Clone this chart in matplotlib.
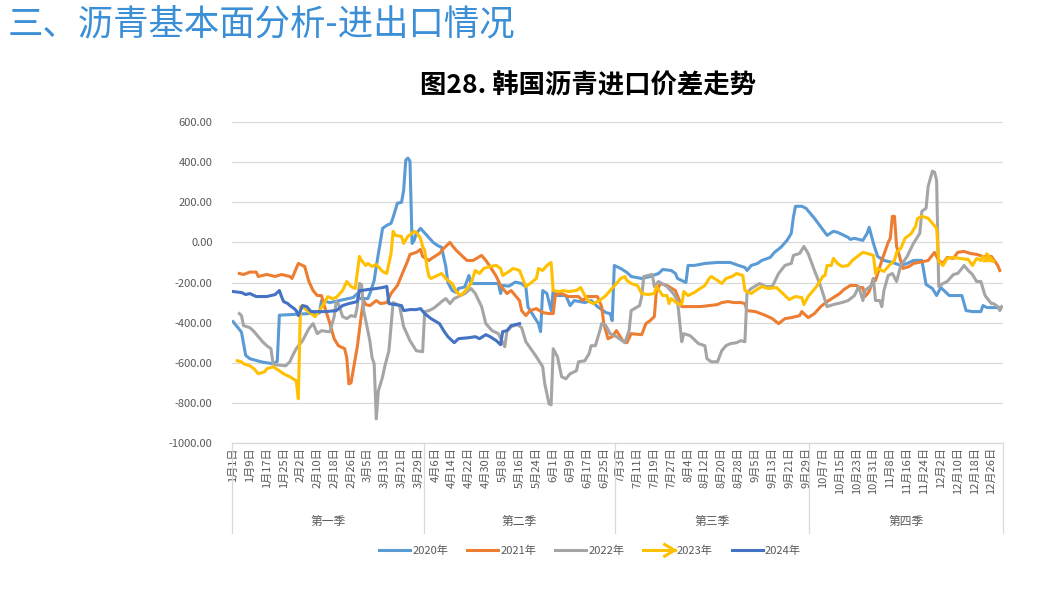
import matplotlib
matplotlib.use("Agg")
import matplotlib.pyplot as plt
from matplotlib.lines import Line2D
from matplotlib.legend_handler import HandlerBase

plt.rcParams['font.family'] = ['Noto Sans CJK SC', 'DejaVu Sans']

# day-of-year (leap year, 0 = 1月1日) and price spread for each year
s2020 = [(0,-395),(4,-447),(6,-563),(8,-580),(14,-597),(19,-605),(21,-593),(22,-363),(41,-352),(42,-290),(46,-300),
         (57,-275),(59,-255),(60,-280),(64,-280),(65,-255),(67,-190),(68,-120),(71,70),(73,85),(75,95),(76,125),(78,195),
         (80,200),(81,260),(82,410),(83,420),(84,405),(85,-5),(86,10),(87,45),(89,70),(92,35),(95,0),(97,-15),(99,-25),
         (101,-120),(102,-200),(104,-240),(106,-250),(107,-230),(110,-222),(112,-165),(113,-205),(120,-205),(126,-205),
         (127,-255),(128,-215),(131,-218),(134,-198),(137,-205),(139,-222),(140,-322),(142,-355),(145,-405),(146,-445),
         (147,-240),(149,-255),(151,-340),(152,-240),(154,-265),(158,-265),(160,-315),(162,-290),(167,-300),(170,-290),
         (173,-320),(177,-350),(179,-355),(180,-390),(181,-115),(184,-130),(187,-150),(189,-170),(194,-180),(198,-170),
         (202,-155),(204,-135),(208,-140),(210,-155),(211,-180),(215,-200),(216,-115),(219,-115),(224,-105),(230,-100),
         (236,-100),(240,-115),(243,-125),(244,-140),(246,-115),(249,-105),(251,-90),(255,-75),(257,-50),(260,-25),
         (263,10),(265,45),(266,125),(267,180),(270,180),(272,170),(276,120),(282,35),(285,55),(287,50),(292,25),
         (293,15),(295,20),(299,10),(301,45),(302,75),(304,-5),(306,-70),(309,-90),(313,-100),(317,-115),(320,-105),
         (323,-90),(327,-90),(329,-210),(332,-230),(334,-265),(336,-225),(338,-245),(340,-265),(346,-265),(348,-340),
         (351,-345),(355,-345),(356,-315),(358,-325),(364,-325)]

s2021 = [(3,-155),(5,-160),(8,-148),(11,-148),(12,-170),(16,-160),(20,-170),(23,-160),(27,-170),(28,-180),(30,-130),
         (31,-105),(34,-120),(36,-195),(38,-240),(40,-265),(42,-265),(43,-305),(46,-405),(48,-480),(50,-515),(53,-530),
         (54,-575),(55,-705),(56,-700),(59,-520),(61,-355),(62,-290),(63,-310),(65,-315),(68,-290),(70,-305),(73,-300),
         (75,-255),(78,-215),(81,-140),(83,-90),(84,-60),(87,-50),(89,-35),(90,-70),(93,-90),(95,-75),(98,-55),(100,-30),
         (103,0),(104,-15),(106,-40),(109,-70),(111,-90),(114,-90),(118,-65),(120,-90),(122,-120),(125,-170),(127,-215),
         (130,-255),(132,-240),(136,-290),(137,-340),(139,-365),(141,-340),(144,-330),(147,-350),(150,-355),(152,-355),
         (153,-260),(156,-255),(159,-270),(164,-270),(166,-290),(168,-270),(170,-270),(173,-270),(175,-320),(176,-405),
         (178,-480),(180,-470),(182,-440),(185,-490),(187,-500),(189,-455),(194,-460),(196,-405),(198,-390),(200,-370),
         (201,-240),(203,-205),(206,-215),(210,-240),(213,-320),(216,-320),(222,-320),(226,-315),(230,-310),(232,-300),
         (235,-295),(238,-300),(241,-300),(243,-305),(244,-340),(248,-345),(253,-365),(256,-380),(259,-405),(262,-380),
         (265,-375),(269,-365),(270,-345),(272,-365),(273,-375),(276,-355),(279,-320),(282,-295),(285,-275),(288,-255),
         (290,-235),(293,-215),(296,-215),(297,-225),(299,-225),(300,-270),(302,-245),(304,-180),(305,-190),(308,-90),
         (310,-30),(311,0),(312,20),(313,130),(314,130),(315,-20),(316,-55),(318,-130),(321,-120),(323,-105),(328,-95),
         (330,-90),(333,-50),(335,-90),(337,-105),(339,-75),(342,-80),(344,-50),(347,-45),(350,-55),(353,-60),(356,-70),
         (360,-70),(363,-115),(364,-140)]

s2022 = [(3,-355),(4,-365),(5,-415),(8,-425),(10,-445),(12,-470),(14,-495),(16,-515),(18,-530),(19,-605),(20,-610),
         (25,-615),(27,-595),(28,-570),(30,-530),(33,-490),(36,-430),(38,-405),(40,-455),(42,-440),(45,-445),(46,-445),
         (48,-370),(49,-295),(50,-305),(52,-370),(54,-380),(56,-365),(58,-370),(59,-320),(60,-205),(61,-210),(62,-340),
         (64,-440),(65,-495),(66,-575),(67,-605),(68,-880),(69,-740),(71,-670),(72,-620),(74,-540),(75,-420),(76,-300),
         (79,-315),(81,-420),(84,-490),(87,-540),(90,-545),(91,-345),(93,-340),(95,-330),(98,-305),(99,-295),(101,-280),
         (103,-305),(105,-280),(107,-270),(110,-255),(113,-230),(115,-255),(118,-320),(120,-405),(123,-440),(126,-455),
         (129,-520),(130,-445),(132,-420),(135,-410),(137,-425),(139,-495),(142,-540),(144,-570),(147,-620),(148,-705),
         (150,-805),(151,-810),(152,-530),(154,-570),(156,-670),(158,-680),(160,-655),(163,-640),(164,-595),(167,-590),
         (169,-555),(170,-515),(172,-515),(174,-445),(175,-405),(177,-415),(179,-455),(182,-470),(186,-500),(188,-440),
         (189,-340),(193,-315),(194,-270),(195,-170),(197,-165),(199,-160),(200,-220),(202,-195),(206,-220),(209,-255),
         (211,-290),(213,-495),(214,-455),(217,-465),(221,-505),(224,-515),(225,-580),(227,-595),(230,-595),(232,-540),
         (234,-515),(236,-505),(239,-500),(241,-490),(243,-495),(244,-250),(246,-230),(250,-205),(253,-220),(256,-220),
         (259,-155),(262,-115),(265,-105),(266,-65),(269,-55),(271,-20),(273,-55),(276,-140),(279,-220),(282,-320),
         (285,-310),(289,-300),(292,-290),(295,-265),(297,-220),(299,-290),(300,-240),(303,-215),(304,-180),(305,-290),
         (307,-290),(308,-320),(309,-240),(311,-165),(313,-155),(315,-195),(317,-115),(320,-70),(323,-5),(326,45),
         (327,155),(329,170),(330,280),(332,355),(333,350),(334,310),(335,-220),(337,-205),(339,-195),(342,-160),
         (344,-155),(346,-130),(347,-115),(349,-140),(351,-160),(353,-195),(355,-195),(357,-265),(360,-305),(361,-305),
         (363,-320),(364,-340),(365,-320)]

s2023 = [(2,-590),(4,-595),(5,-605),(8,-615),(10,-630),(12,-655),(15,-645),(16,-630),(19,-620),(22,-640),(24,-655),
         (27,-670),(30,-690),(31,-780),(32,-320),(33,-315),(34,-330),(37,-355),(39,-370),(41,-340),(44,-290),(45,-270),
         (47,-280),(49,-275),(52,-240),(54,-195),(56,-220),(58,-230),(60,-70),(61,-90),(63,-115),(64,-105),(66,-120),
         (68,-110),(71,-145),(73,-155),(75,-55),(76,55),(77,35),(80,30),(81,-5),(83,30),(86,55),(87,50),(89,20),(90,-20),
         (91,-40),(92,-120),(93,-170),(94,-180),(97,-165),(99,-155),(101,-180),(104,-205),(106,-245),(108,-265),
         (110,-245),(113,-205),(115,-140),(117,-155),(119,-130),(122,-120),(125,-115),(127,-130),(128,-165),(131,-145),
         (133,-130),(136,-140),(139,-220),(141,-205),(144,-180),(145,-130),(147,-140),(149,-115),(151,-100),(152,-240),
         (155,-245),(157,-240),(159,-245),(163,-240),(165,-225),(167,-265),(169,-295),(171,-305),(174,-290),(177,-265),
         (179,-240),(182,-205),(184,-180),(186,-170),(187,-190),(189,-205),(192,-215),(194,-255),(197,-260),(200,-255),
         (201,-220),(204,-265),(206,-265),(207,-305),(208,-280),(211,-305),(213,-310),(214,-245),(216,-265),(219,-250),
         (221,-235),(224,-215),(226,-180),(227,-170),(230,-190),(232,-205),(234,-180),(237,-170),(239,-155),(242,-165),
         (243,-240),(246,-255),(248,-240),(251,-220),(254,-230),(258,-225),(261,-255),(264,-285),(267,-270),(270,-275),
         (271,-310),(273,-270),(277,-220),(280,-170),(281,-165),(282,-115),(284,-115),(285,-80),(287,-105),(289,-120),
         (292,-115),(294,-90),(297,-65),(299,-50),(301,-55),(304,-65),(305,-155),(306,-130),(309,-145),(311,-120),
         (314,-90),(315,-50),(317,-30),(319,20),(322,45),(324,80),(325,120),(327,130),(330,120),(332,95),(334,70),
         (335,-95),(337,-115),(339,-80),(342,-75),(345,-80),(349,-85),(351,-115),(353,-80),(355,-90),(356,-70),
         (359,-90),(361,-95)]

s2024 = [(0,-245),(4,-250),(6,-260),(8,-255),(11,-270),(13,-270),(16,-270),(18,-265),(20,-260),(22,-240),(23,-270),
         (24,-295),(26,-305),(27,-315),(29,-330),(30,-340),(31,-365),(33,-315),(35,-320),(37,-345),(39,-345),(44,-345),
         (49,-340),(52,-315),(55,-305),(59,-295),(60,-240),(61,-240),(64,-235),(68,-230),(71,-225),(73,-220),(74,-305),
         (77,-310),(80,-315),(81,-340),(84,-335),(87,-335),(89,-330),(91,-355),(94,-380),(98,-405),(100,-440),(102,-470),
         (105,-500),(107,-480),(112,-475),(115,-470),(117,-480),(120,-460),(122,-470),(125,-490),(127,-510),(128,-445),
         (130,-440),(132,-415),(136,-405)]

series_names = ['2020年', '2021年', '2022年', '2023年', '2024年']
series_colors = ['#5B9BD5', '#ED7D31', '#A5A5A5', '#FFC000', '#4472C4']

tick_days = list(range(0, 361, 8))
tick_labels = ['1月1日', '1月9日', '1月17日', '1月25日', '2月2日', '2月10日', '2月18日', '2月26日', '3月5日',
               '3月13日', '3月21日', '3月29日', '4月6日', '4月14日', '4月22日', '4月30日', '5月8日', '5月16日',
               '5月24日', '6月1日', '6月9日', '6月17日', '6月25日', '7月3日', '7月11日', '7月19日', '7月27日',
               '8月4日', '8月12日', '8月20日', '8月28日', '9月5日', '9月13日', '9月21日', '9月29日', '10月7日',
               '10月15日', '10月23日', '10月31日', '11月8日', '11月16日', '11月24日', '12月2日', '12月10日',
               '12月18日', '12月26日']
quarter_names = ['第一季', '第二季', '第三季', '第四季']
quarter_starts = [0, 91, 182, 274, 366]


class ArrowHandler(HandlerBase):
    # legend entry drawn as a line with an open arrow head
    def create_artists(self, legend, orig_handle, xdescent, ydescent, width, height, fontsize, trans):
        y = height / 2 - ydescent
        x0, x1 = -xdescent, width - xdescent
        c = orig_handle.get_color()
        lw = orig_handle.get_linewidth()
        shaft = Line2D([x0, x1], [y, y], color=c, lw=lw, transform=trans)
        head = Line2D([x1 - 0.32 * width, x1, x1 - 0.32 * width], [y + height * 0.75, y, y - height * 0.75],
                      color=c, lw=lw, transform=trans)
        return [shaft, head]


fig = plt.figure(figsize=(10.44, 5.94), dpi=100)
ax = fig.add_axes([0.2222, 0.2542, 0.7385, 0.5404])

all_series = [s2020, s2021, s2022, s2023, s2024]
handles = []
for data, name, color in zip(all_series, series_names, series_colors):
    xs = [p[0] for p in data]
    ys = [p[1] for p in data]
    line, = ax.plot(xs, ys, color=color, lw=2.2, label=name, solid_joinstyle='round')
    handles.append(line)
    if name == '2023年':
        ax.annotate('', xy=(xs[-1] + 1, ys[-1]), xytext=(xs[-3], ys[-3]),
                    arrowprops=dict(arrowstyle='->', color=color, lw=2.2, mutation_scale=14,
                                    shrinkA=0, shrinkB=0))

ax.set_xlim(-0.5, 365.5)
ax.set_ylim(-1000, 600)
ax.set_yticks(range(-1000, 601, 200))
ax.set_yticklabels(['%.2f' % v for v in range(-1000, 601, 200)])
ax.grid(axis='y', color='#D9D9D9', lw=0.9)
ax.set_axisbelow(True)
for side in ['top', 'right', 'left']:
    ax.spines[side].set_visible(False)
ax.spines['bottom'].set_color('#D9D9D9')
ax.spines['bottom'].set_linewidth(0.9)

ax.set_xticks(tick_days)
ax.set_xticklabels(tick_labels, rotation=90, va='top', ha='center')
ax.tick_params(axis='x', length=0, pad=3, labelsize=8, labelcolor='#595959')
ax.tick_params(axis='y', length=0, pad=14, labelsize=8, labelcolor='#595959')

# quarter grouping below the date labels
xt = ax.get_xaxis_transform()
for b in quarter_starts:
    ax.plot([b - 0.5, b - 0.5], [0, -0.28], color='#D9D9D9', lw=0.9, transform=xt, clip_on=False)
for i, q in enumerate(quarter_names):
    mid = (quarter_starts[i] + quarter_starts[i + 1]) / 2 - 0.5
    ax.text(mid, -0.246, q, transform=xt, ha='center', va='center', fontsize=8.5, color='#595959')

fig.legend(handles, series_names, loc='center', bbox_to_anchor=(590 / 1044, 1 - 551 / 594), ncol=5,
           frameon=False, fontsize=8, handlelength=2.8, handletextpad=0.2, columnspacing=1.7,
           labelcolor='#595959', handler_map={handles[3]: ArrowHandler()})

fig.text(8 / 1044, 1 - 24 / 594, '三、沥青基本面分析-进出口情况', fontsize=25.5, color='#3A8FD6',
         ha='left', va='center')
fig.text(588 / 1044, 1 - 86 / 594, '图28. 韩国沥青进口价差走势', fontsize=19, fontweight='bold',
         color='black', ha='center', va='center')

fig.savefig('out.png', dpi=100)
